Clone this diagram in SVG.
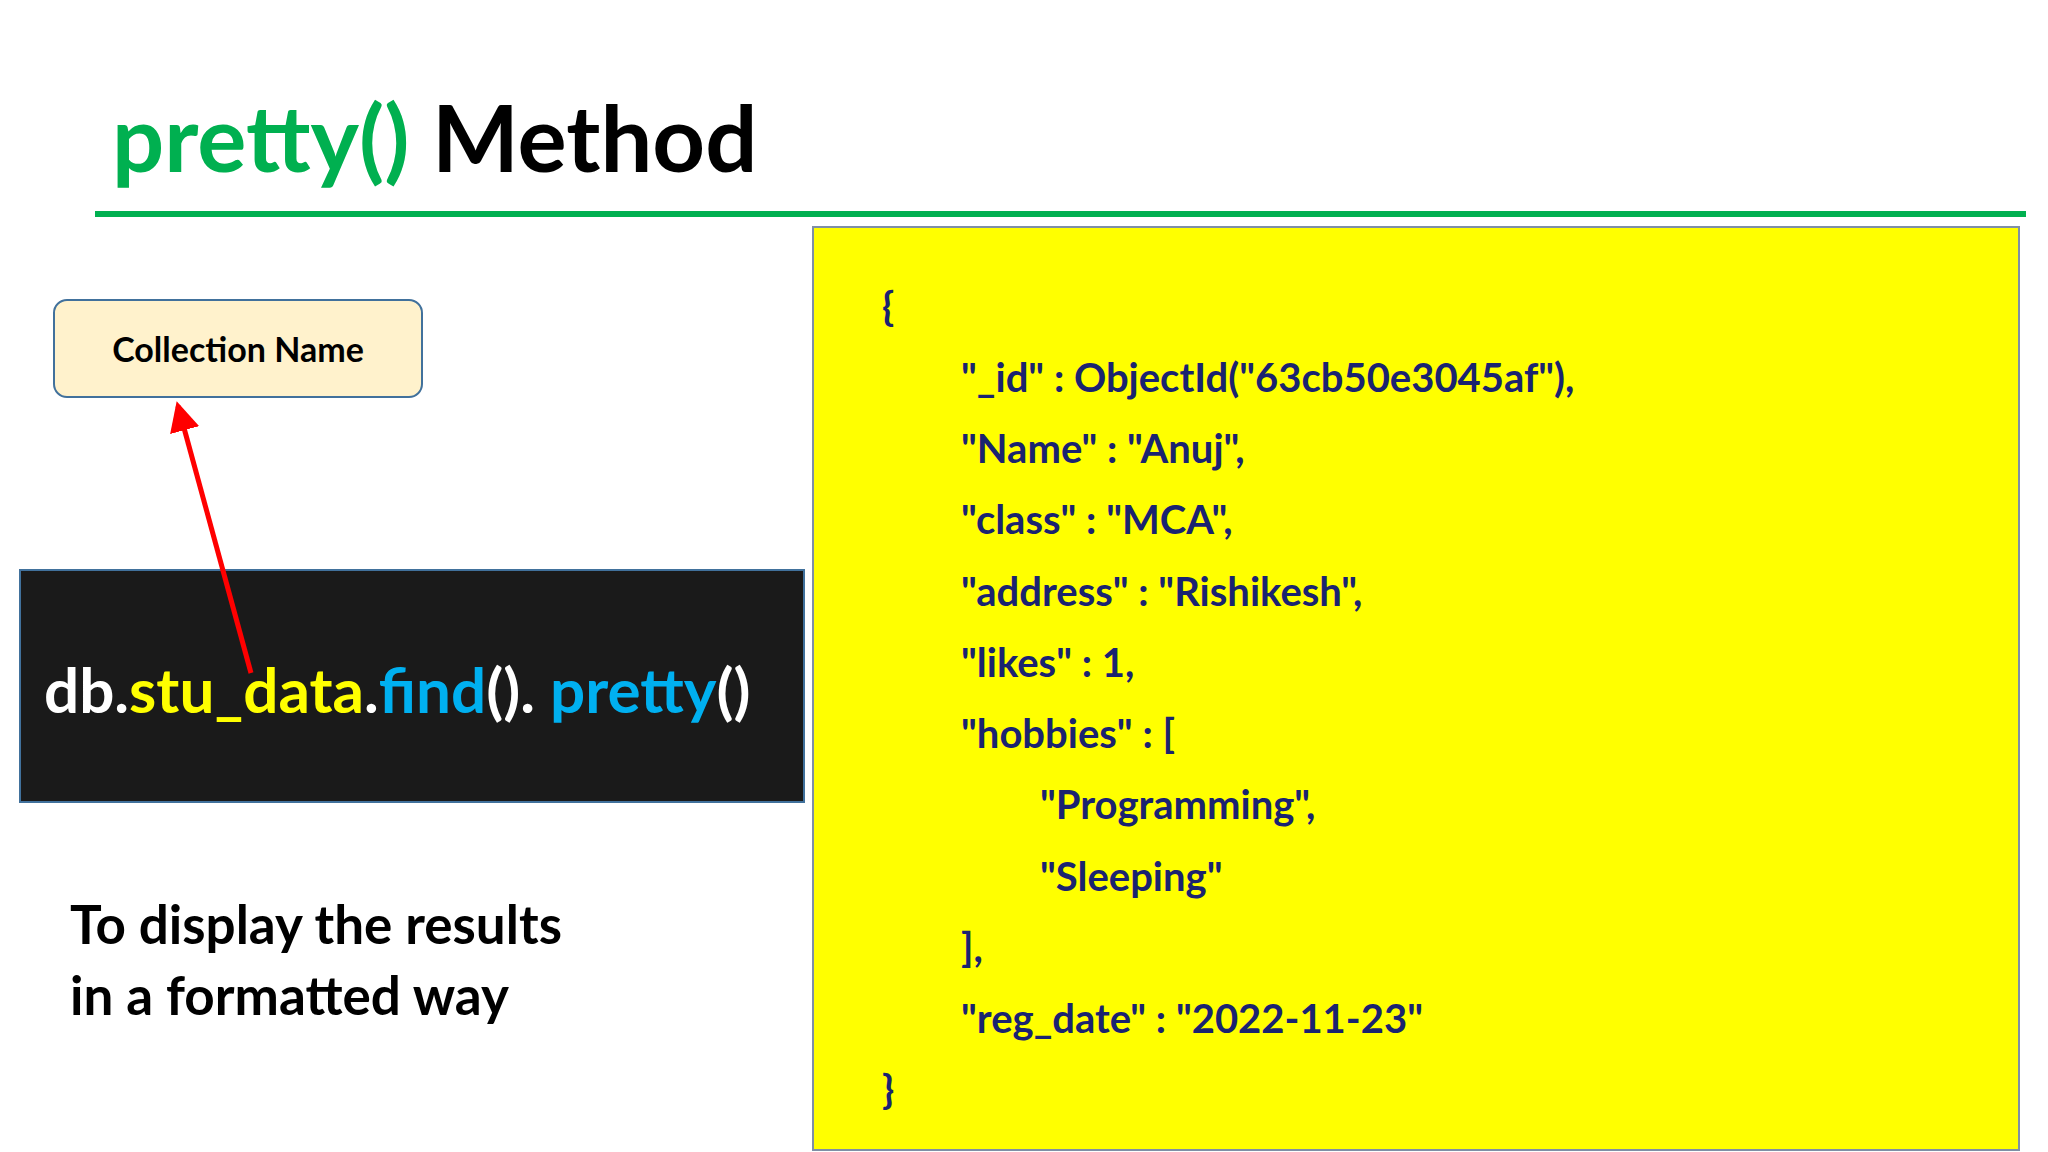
<svg xmlns="http://www.w3.org/2000/svg" width="2048" height="1152" viewBox="0 0 2048 1152">
<style>
text{font-family:Lato,"Liberation Sans",sans-serif;font-weight:bold}
.j{fill:#1a2370;font-size:40px}
.w{fill:#fff}.y{fill:#ffff00}.b{fill:#00b0f0}
</style>
<defs><marker id="ah" markerWidth="6" markerHeight="6" refX="5" refY="3" orient="auto"><path d="M0,0L6,3L0,6z" fill="#ff0000"/></marker></defs>
<rect width="2048" height="1152" fill="#fff"/>
<g id="title"><text x="112" y="172" font-size="92"><tspan fill="#00b050">pretty()</tspan><tspan fill="#000"> Method</tspan></text>
<rect x="95" y="211" width="1931" height="6" fill="#00b050"/></g>
<g id="json"><rect x="813" y="227" width="1206" height="923" fill="#ffff00" stroke="#7f8fa6" stroke-width="2"/>
<text class="j" x="882" y="321">{</text>
<text class="j" x="961" y="392">"_id" : ObjectId("63cb50e3045af"),</text>
<text class="j" x="961" y="463">"Name" : "Anuj",</text>
<text class="j" x="961" y="534">"class" : "MCA",</text>
<text class="j" x="961" y="606">"address" : "Rishikesh",</text>
<text class="j" x="961" y="677">"likes" : 1,</text>
<text class="j" x="961" y="748">"hobbies" : [</text>
<text class="j" x="1040" y="819">"Programming",</text>
<text class="j" x="1040" y="891">"Sleeping"</text>
<text class="j" x="961" y="962">],</text>
<text class="j" x="961" y="1033">"reg_date" : "2022-11-23"</text>
<text class="j" x="882" y="1104">}</text></g>
<g id="collection"><rect x="54" y="300" width="368" height="97" rx="13" fill="#fff2cc" stroke="#41719c" stroke-width="2"/>
<text x="238" y="362" font-size="34" text-anchor="middle" fill="#000">Collection Name</text></g>
<g id="code"><rect x="20" y="570" width="784" height="232" fill="#1a1a1a" stroke="#41719c" stroke-width="2"/>
<text x="44" y="713" font-size="62"><tspan class="w">db.</tspan><tspan class="y">stu_data</tspan><tspan class="w">.</tspan><tspan class="b">find</tspan><tspan class="w">(). </tspan><tspan class="b">pretty</tspan><tspan class="w">()</tspan></text></g>
<g id="desc"><text x="70" y="944" font-size="53" fill="#000">To display the results</text>
<text x="70" y="1015" font-size="53" fill="#000">in a formatted way</text></g>
<g id="connectors"><line x1="251" y1="673" x2="178" y2="406" stroke="#ff0000" stroke-width="5" marker-end="url(#ah)"/></g>
</svg>
